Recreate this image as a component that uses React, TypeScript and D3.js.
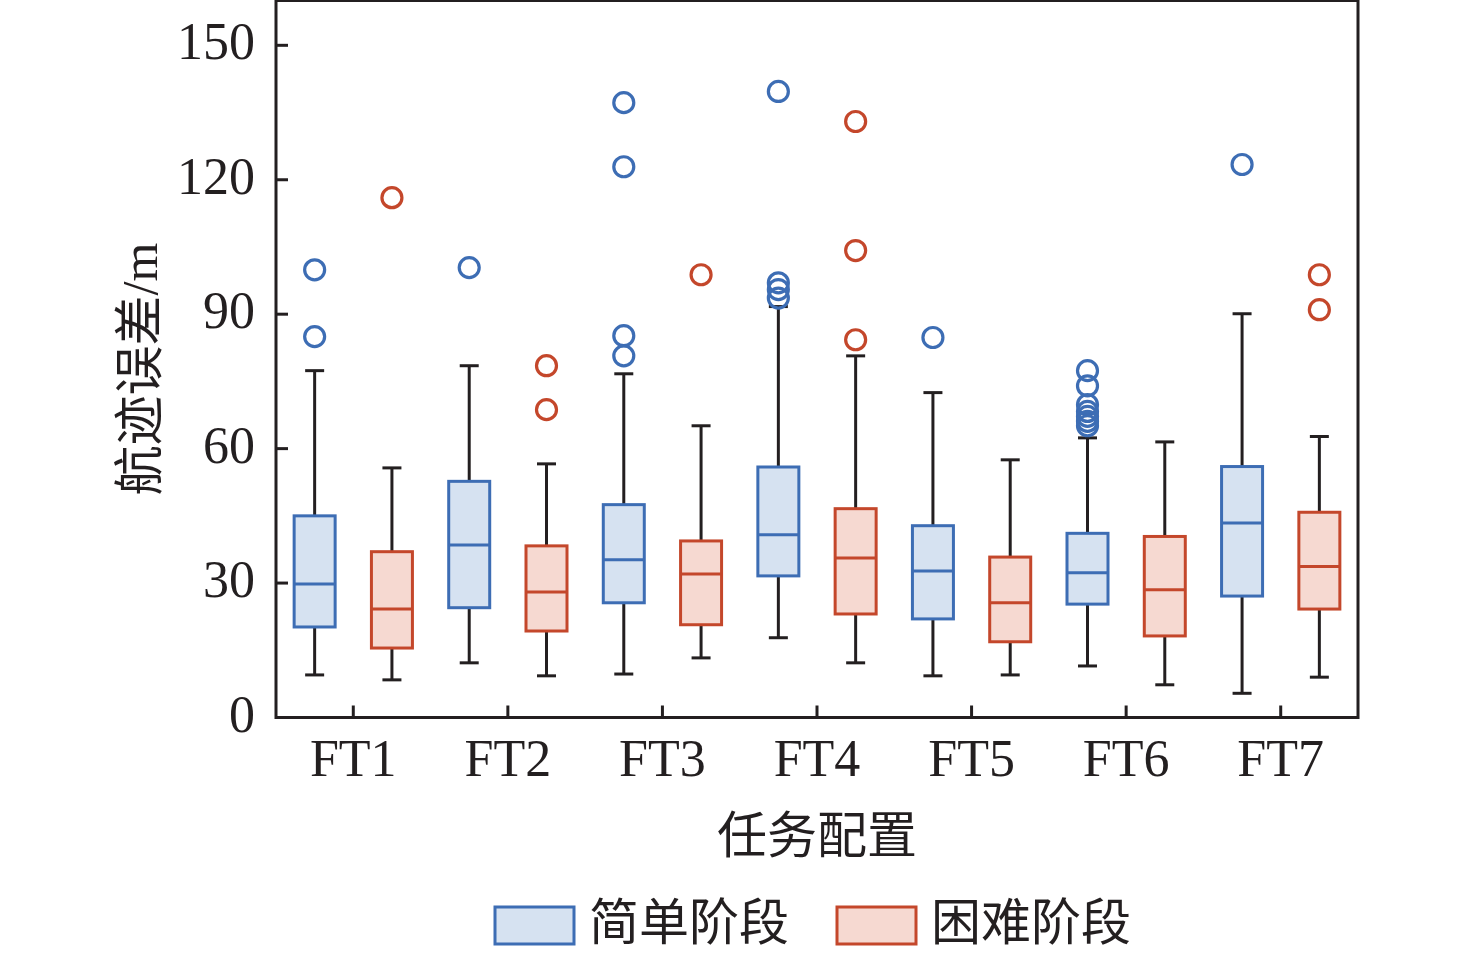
import React from 'react';
import * as d3 from 'd3';

// --- data ---
const CATEGORIES = ['FT1', 'FT2', 'FT3', 'FT4', 'FT5', 'FT6', 'FT7'];
const SERIES = ['简单阶段', '困难阶段'];

// easy stage
const EASY_LOW = [9.5, 12.2, 9.7, 17.8, 9.3, 11.5, 5.4];
const EASY_Q1 = [20.2, 24.5, 25.6, 31.6, 22.0, 25.3, 27.1];
const EASY_MED = [29.8, 38.5, 35.2, 40.8, 32.7, 32.3, 43.4];
const EASY_Q3 = [45.0, 52.7, 47.5, 55.9, 42.8, 41.1, 56.0];
const EASY_HIGH = [77.4, 78.5, 76.7, 91.7, 72.5, 62.4, 90.1];
const EASY_OUT = [
  [99.9, 85.0],
  [100.4],
  [137.2, 122.9, 85.2, 80.7],
  [139.7, 97.0, 95.5, 93.6],
  [84.8],
  [77.4, 74.0, 69.8, 68.3, 67.2, 66.1, 65.1],
  [123.4],
];

// hard stage
const HARD_LOW = [8.4, 9.3, 13.3, 12.2, 9.5, 7.3, 9.0];
const HARD_Q1 = [15.5, 19.3, 20.7, 23.1, 16.9, 18.2, 24.2];
const HARD_MED = [24.2, 28.0, 32.0, 35.6, 25.6, 28.5, 33.7];
const HARD_Q3 = [37.0, 38.3, 39.4, 46.6, 35.8, 40.4, 45.8];
const HARD_HIGH = [55.7, 56.6, 65.1, 80.7, 57.5, 61.5, 62.7];
const HARD_OUT = [
  [116.0],
  [78.5, 68.7],
  [98.8],
  [133.0, 104.2, 84.3],
  [],
  [],
  [98.8, 91.0],
];

const Y_TICKS = [0, 30, 60, 90, 120, 150];

const STROKES = ['#3d6db4', '#c4472b'];
const FILLS = ['#d6e2f1', '#f6d9d1'];

const W = 1476;
const H = 958;
const plot = { left: 276, right: 1358, top: 0.5, bottom: 717.5 };
const LATIN = '"Liberation Serif", "Times New Roman", serif';
const CJK = '"Liberation Serif", "Noto Sans CJK SC", serif';

type Box = { low: number; q1: number; med: number; q3: number; high: number; out: number[] };

const series: Box[][] = [
  CATEGORIES.map((_, i) => ({ low: EASY_LOW[i], q1: EASY_Q1[i], med: EASY_MED[i], q3: EASY_Q3[i], high: EASY_HIGH[i], out: EASY_OUT[i] })),
  CATEGORIES.map((_, i) => ({ low: HARD_LOW[i], q1: HARD_Q1[i], med: HARD_MED[i], q3: HARD_Q3[i], high: HARD_HIGH[i], out: HARD_OUT[i] })),
];

export default function App() {
  const x = d3.scaleBand<string>().domain(CATEGORIES).range([plot.left, plot.right]);
  const xSub = d3.scaleBand<string>().domain(SERIES).range([0, x.bandwidth()]);
  const y = d3.scaleLinear().domain([0, 160]).range([plot.bottom, plot.top]);

  const boxW = 41;
  const capW = 19;
  const sw = 3;

  return (
    <svg width={W} height={H} style={{ position: 'absolute', left: 0, top: 0, background: '#fff' }}>
      {/* boxes */}
      {series.map((boxes, s) => (
        <g key={s}>
          {boxes.map((b, i) => {
            const cx = (x(CATEGORIES[i]) ?? 0) + (xSub(SERIES[s]) ?? 0) + xSub.bandwidth() / 2;
            return (
              <g key={i}>
                <line x1={cx} x2={cx} y1={y(b.high)} y2={y(b.q3)} stroke="#231f20" strokeWidth={sw} />
                <line x1={cx} x2={cx} y1={y(b.q1)} y2={y(b.low)} stroke="#231f20" strokeWidth={sw} />
                <line x1={cx - capW / 2} x2={cx + capW / 2} y1={y(b.high)} y2={y(b.high)} stroke="#231f20" strokeWidth={sw} />
                <line x1={cx - capW / 2} x2={cx + capW / 2} y1={y(b.low)} y2={y(b.low)} stroke="#231f20" strokeWidth={sw} />
                <rect x={cx - boxW / 2} y={y(b.q3)} width={boxW} height={y(b.q1) - y(b.q3)}
                  fill={FILLS[s]} stroke={STROKES[s]} strokeWidth={sw} />
                <line x1={cx - boxW / 2} x2={cx + boxW / 2} y1={y(b.med)} y2={y(b.med)} stroke={STROKES[s]} strokeWidth={sw} />
                {b.out.map((v, k) => (
                  <circle key={k} cx={cx} cy={y(v)} r={10} fill="none" stroke={STROKES[s]} strokeWidth={3.2} />
                ))}
              </g>
            );
          })}
        </g>
      ))}

      {/* frame */}
      <rect x={plot.left} y={plot.top} width={plot.right - plot.left} height={plot.bottom - plot.top}
        fill="none" stroke="#231f20" strokeWidth={3} />

      {/* y axis */}
      {Y_TICKS.map(t => (
        <g key={t}>
          <line x1={plot.left} x2={plot.left + 12} y1={y(t)} y2={y(t)} stroke="#231f20" strokeWidth={3} />
          <text x={255} y={y(t) + 14} textAnchor="end" fontFamily={LATIN} fontSize={52} fill="#231f20">{t}</text>
        </g>
      ))}

      {/* x axis */}
      {CATEGORIES.map(c => {
        const cx = (x(c) ?? 0) + x.bandwidth() / 2;
        return (
          <g key={c}>
            <line x1={cx} x2={cx} y1={plot.bottom} y2={plot.bottom - 12} stroke="#231f20" strokeWidth={3} />
            <text x={cx} y={776} textAnchor="middle" fontFamily={LATIN} fontSize={52} fill="#231f20">{c}</text>
          </g>
        );
      })}

      {/* axis titles */}
      <text x={(plot.left + plot.right) / 2} y={836} textAnchor="middle" dominantBaseline="central"
        fontFamily={CJK} fontSize={50} fill="#231f20">任务配置</text>
      <text transform={`translate(140, ${(plot.top + plot.bottom) / 2 + 10}) rotate(-90)`} textAnchor="middle"
        dominantBaseline="central" fontFamily={CJK} fontSize={50} fill="#231f20">航迹误差/m</text>

      {/* legend */}
      {SERIES.map((name, s) => {
        const lx = s === 0 ? 495 : 837;
        return (
          <g key={name}>
            <rect x={lx} y={907} width={79} height={37} fill={FILLS[s]} stroke={STROKES[s]} strokeWidth={3} />
            <text x={lx + 94} y={923} dominantBaseline="central" fontFamily={CJK} fontSize={50} fill="#231f20">{name}</text>
          </g>
        );
      })}
    </svg>
  );
}
